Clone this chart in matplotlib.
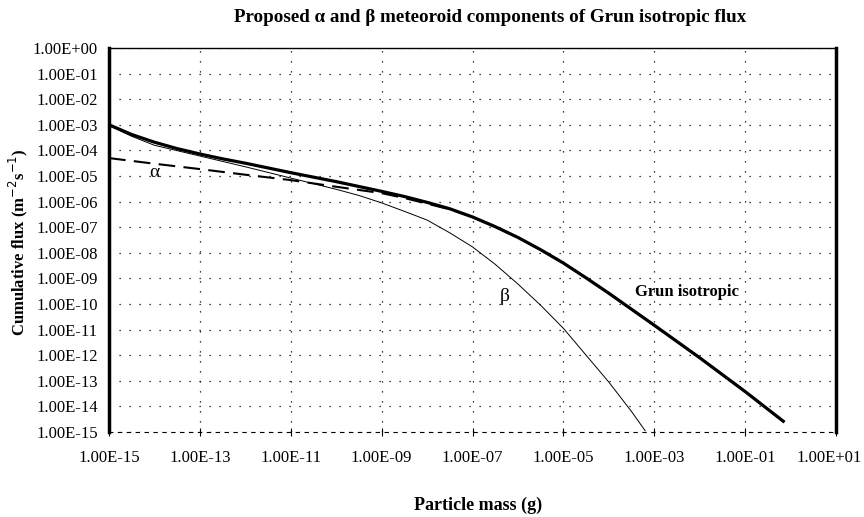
import numpy as np
import matplotlib
matplotlib.use('Agg')
import matplotlib.pyplot as plt
import matplotlib.transforms as mtransforms
from matplotlib.ticker import FuncFormatter

plt.rcParams['font.family'] = ['Liberation Serif', 'DejaVu Serif']

# log10 of particle mass (g) and log10 of cumulative flux
grun_logm = [-15, -14.5, -14, -13.5, -13, -12.5, -12, -11, -10, -9, -8.5, -8, -7.5, -7, -6.5,
             -6, -5.5, -5, -4.5, -4, -3, -2, -1, -0.16]
grun_logf = [-3.0, -3.38, -3.68, -3.93, -4.14, -4.33, -4.5, -4.87, -5.22, -5.6, -5.8, -6.03,
             -6.28, -6.6, -6.98, -7.4, -7.88, -8.4, -8.98, -9.58, -10.83, -12.1, -13.42, -14.58]

alpha_logm = [-15, -14, -13, -12, -11, -10, -9, -8.5, -8, -7.5, -7, -6.5, -6, -5.5, -5, -4.5,
              -4, -3, -2, -1, -0.16]
alpha_logf = [-4.3, -4.52, -4.73, -4.95, -5.16, -5.42, -5.67, -5.86, -6.08, -6.3, -6.6, -6.98,
              -7.4, -7.88, -8.4, -8.98, -9.58, -10.83, -12.1, -13.42, -14.58]

beta_logm = [-15, -14.5, -14, -13, -12, -11, -10, -9.5, -9, -8.5, -8, -7.5, -7, -6.5, -6, -5.5,
             -5, -4.5, -4, -3.5, -3.2]
beta_logf = [-3.03, -3.45, -3.8, -4.22, -4.64, -5.08, -5.52, -5.76, -6.05, -6.38, -6.72, -7.22,
             -7.77, -8.45, -9.22, -10.05, -10.95, -12.0, -13.05, -14.2, -14.95]

x_tick_exp = np.arange(-15, 2, 2)
y_tick_exp = np.arange(-15, 1)

fig = plt.figure(figsize=(8.64, 5.17), dpi=100)
ax = fig.add_axes([109/864, 1 - 432/517, (836 - 109)/864, (432 - 48)/517])

ax.plot(10.0**np.array(alpha_logm), 10.0**np.array(alpha_logf), color='black',
        lw=1.5, linestyle=(0, (8, 4)), zorder=3)
ax.plot(10.0**np.array(beta_logm), 10.0**np.array(beta_logf), color='black',
        lw=0.7, zorder=3)
ax.plot(10.0**np.array(grun_logm), 10.0**np.array(grun_logf), color='black',
        lw=2.3, zorder=4, solid_joinstyle='round')

ax.set_xscale('log')
ax.set_yscale('log')
ax.set_xlim(1e-15, 1e1)
ax.set_ylim(1e-15, 1e0)
ax.set_xticks(10.0**x_tick_exp)
ax.set_yticks(10.0**y_tick_exp)
ax.minorticks_off()
fmt = FuncFormatter(lambda v, p: f"{v:.2E}")
ax.xaxis.set_major_formatter(fmt)
ax.yaxis.set_major_formatter(fmt)
ax.tick_params(axis='x', direction='inout', length=6, width=0.8, labelsize=12, pad=10)
ax.tick_params(axis='y', length=0, labelsize=12, pad=8)

# keep the last mass label inside the figure edge
last_lbl = ax.get_xticklabels()[-1]
last_lbl.set_transform(last_lbl.get_transform() +
                       mtransforms.ScaledTranslation(-5/72, 0, fig.dpi_scale_trans))

ax.grid(True, color='black', lw=0.9, linestyle=(0, (1, 7)))
ax.set_axisbelow(True)

ax.spines['left'].set_linewidth(2.5)
ax.spines['right'].set_linewidth(2.5)
ax.spines['top'].set_linewidth(1.0)
ax.spines['bottom'].set_linewidth(0.8)
ax.spines['bottom'].set_linestyle((0, (3, 5)))

ax.text(1e-14, 1.4e-5, 'α', fontsize=14, ha='center', va='center')
ax.text(5e-7, 1.9e-10, 'β', fontsize=14, ha='center', va='center')
ax.text(10**-3.42, 10**-9.53, 'Grun isotropic', fontsize=12, fontweight='bold',
        ha='left', va='center')

fig.text(490/864, 1 - 17/517, 'Proposed α and β meteoroid components of Grun isotropic flux',
         fontsize=13.7, fontweight='bold', ha='center', va='center')
fig.text(478/864, 1 - 505/517, 'Particle mass (g)', fontsize=13, fontweight='bold',
         ha='center', va='center')
fig.text(18/864, 1 - 242/517, 'Cumulative flux (m$^{-2}$s$^{-1}$)', fontsize=12,
         fontweight='bold', rotation=90, ha='center', va='center')

fig.savefig('out.png', dpi=100)
